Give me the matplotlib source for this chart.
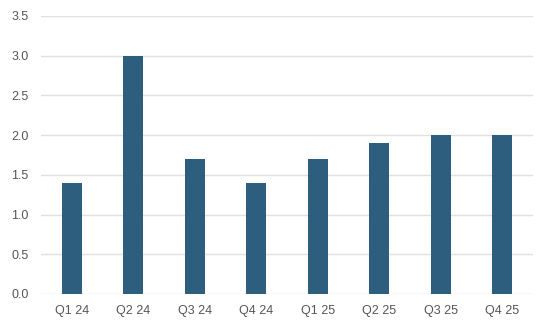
import matplotlib.pyplot as plt
import numpy as np

quarters = ['Q1 24', 'Q2 24', 'Q3 24', 'Q4 24', 'Q1 25', 'Q2 25', 'Q3 25', 'Q4 25']
values = [1.4, 3.0, 1.7, 1.4, 1.7, 1.9, 2.0, 2.0]
y_ticks = [0.0, 0.5, 1.0, 1.5, 2.0, 2.5, 3.0, 3.5]

plt.rcParams['font.family'] = ['Liberation Sans', 'DejaVu Sans']

fig = plt.figure(figsize=(5.46, 3.27), dpi=100)
ax = fig.add_axes([41 / 546, 1 - 294 / 327, (533 - 41) / 546, (294 - 16) / 327])

x = np.arange(len(quarters))
ax.bar(x, values, width=0.32, color='#2e5e7e', zorder=3)

ax.set_xlim(-0.5, len(quarters) - 0.5)
ax.set_ylim(0, 3.5)
ax.set_xticks(x)
ax.set_xticklabels(quarters)
ax.set_yticks(y_ticks)
ax.set_yticklabels([f'{v:.1f}' for v in y_ticks])

ax.grid(axis='y', color='#e0e0e0', linewidth=1, zorder=0)
for s in ax.spines.values():
    s.set_visible(False)
ax.tick_params(axis='both', length=0, labelsize=9, colors='#555555')
ax.tick_params(axis='x', pad=8)
ax.tick_params(axis='y', pad=9)

fig.savefig('out.png', dpi=100)
